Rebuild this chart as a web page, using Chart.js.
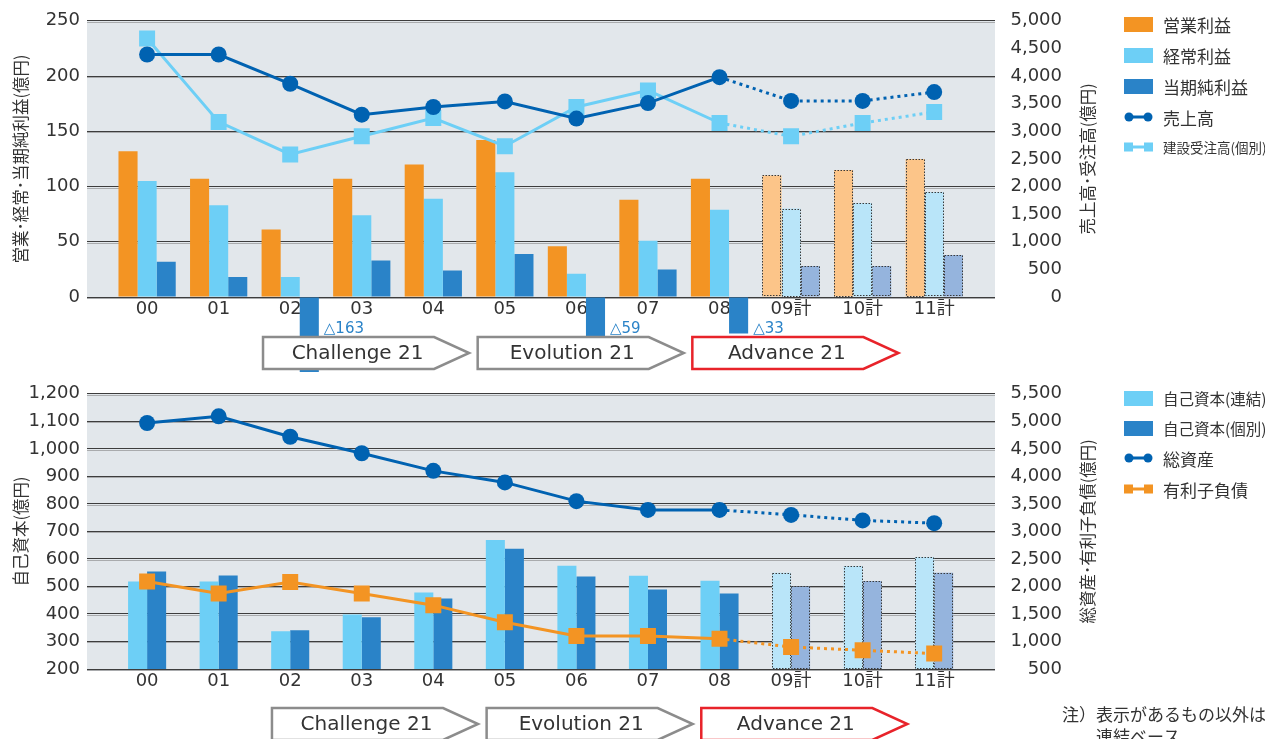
<!DOCTYPE html>
<html>
<head>
<meta charset="utf-8">
<script src="https://cdn.jsdelivr.net/npm/chart.js@4.4.1/dist/chart.umd.min.js"></script>
<style>
  html, body { margin: 0; padding: 0; background: #fff; width: 1265px; height: 739px; overflow: hidden; }
  body { font-family: "Noto Sans CJK JP", sans-serif; color: #333; position: relative; }
  .panel { position: absolute; left: 0; width: 1265px; }
  #topPanel { top: 0; height: 375px; }
  #bottomPanel { top: 373px; height: 366px; }
  .legend-item { position: absolute; left: 1124px; height: 20px; display: flex; align-items: center; white-space: nowrap; font-size: 17px; }
  .legend-item svg { margin-right: 10px; flex: none; }
  .note { position: absolute; left: 1062px; top: 703px; font-size: 17px; line-height: 22px; white-space: nowrap; }
</style>
</head>
<body>
<div class="panel" id="topPanel"><canvas id="profitChart" width="1265" height="375"></canvas></div>
<div class="panel" id="bottomPanel"><canvas id="balanceChart" width="1265" height="366"></canvas></div>
<div id="legends"></div>
<div class="note">注）表示があるもの以外は<br><span style="padding-left:34px">連結ベース</span></div>
<script>
// fiscal years (last three are plans)
const years = ['00', '01', '02', '03', '04', '05', '06', '07', '08', '09計', '10計', '11計'];
const PLAN_FROM = 9;

// top chart, left axis (億円)
const operatingIncome = [132, 107, 61, 107, 120, 142, 46, 88, 107, 110, 115, 125];
const ordinaryIncome = [105, 83, 18, 74, 89, 113, 21, 51, 79, 80, 85, 95];
const netIncome = [32, 18, -163, 33, 24, 39, -59, 25, -33, 28, 28, 38];
// top chart, right axis (億円)
const netSales = [4390, 4390, 3860, 3300, 3440, 3540, 3230, 3510, 3980, 3550, 3550, 3710];
const ordersReceived = [4680, 3170, 2580, 2910, 3240, 2730, 3440, 3740, 3150, 2910, 3150, 3350];

// bottom chart, left axis (億円)
const equityConsolidated = [518, 518, 337, 398, 478, 669, 575, 539, 521, 550, 574, 607];
const equityNonConsolidated = [554, 540, 341, 388, 456, 637, 536, 489, 474, 500, 520, 550];
// bottom chart, right axis (億円)
const totalAssets = [4970, 5090, 4720, 4420, 4100, 3890, 3550, 3390, 3390, 3300, 3200, 3150];
const interestBearingDebt = [2090, 1870, 2080, 1870, 1660, 1350, 1100, 1100, 1050, 900, 840, 780];

// medium-term plans
const phaseNames = ['Challenge 21', 'Evolution 21', 'Advance 21'];
const phaseStart = [2, 5, 8];
const phaseEnd = [4, 7, 10];
const phaseColors = ['#8c8c8c', '#8c8c8c', '#e8232a'];

const COLORS = {
  orange: '#f39423', orangePale: '#fcc589',
  sky: '#6dcff6', skyPale: '#b9e5f9',
  blue: '#2a83c8', bluePale: '#95b4dd',
  navy: '#0062b1',
  text: '#333333',
};
const NUM_FONT = '"DejaVu Sans", "Noto Sans CJK JP", sans-serif';
const JP_FONT = '"Noto Sans CJK JP", sans-serif';

const points = arr => arr.map((v, i) => ({ x: i, y: v }));
const planColors = (solid, pale) => years.map((_, i) => i >= PLAN_FROM ? pale : solid);
const dottedAfter8 = { borderDash: ctx => ctx.p0DataIndex >= 8 ? [3, 4] : undefined };

const plotBackground = {
  id: 'plotBackground',
  beforeDraw(chart) {
    const { ctx, chartArea: a } = chart;
    ctx.save();
    ctx.fillStyle = '#e2e7eb';
    ctx.fillRect(a.left, a.top, a.width, a.height);
    ctx.restore();
  },
  beforeDatasetsDraw(chart) {
    // lighter shadow line under each grid line
    const { ctx, chartArea: a } = chart;
    const y = chart.scales.y;
    ctx.save();
    ctx.strokeStyle = '#a9abad';
    ctx.lineWidth = 1;
    y.ticks.forEach(t => {
      const py = Math.round(y.getPixelForValue(t.value)) + 1.5;
      ctx.beginPath();
      ctx.moveTo(a.left, py);
      ctx.lineTo(a.right, py);
      ctx.stroke();
    });
    ctx.restore();
  }
};

const planOutline = {
  id: 'planOutline',
  afterDatasetDraw(chart, args) {
    const meta = args.meta;
    if (meta.type !== 'bar') return;
    const { ctx, chartArea: a } = chart;
    ctx.save();
    ctx.setLineDash([1.5, 1.5]);
    ctx.strokeStyle = '#3a3a3a';
    ctx.lineWidth = 1;
    meta.data.forEach((bar, i) => {
      if (i < PLAN_FROM) return;
      const { x, y, base, width } = bar.getProps(['x', 'y', 'base', 'width'], true);
      const yTop = Math.max(Math.min(y, base), a.top);
      const yBot = Math.min(Math.max(y, base), a.bottom);
      ctx.strokeRect(Math.round(x - width / 2) + 0.5, Math.round(yTop) + 0.5,
        Math.round(width) - 1, Math.round(yBot - yTop) - 1);
    });
    ctx.restore();
  }
};

const extras = {
  id: 'extras',
  afterDraw(chart, args, opts) {
    const { ctx, chartArea: a } = chart;
    const xs = chart.scales.x;
    ctx.save();

    // right axis title, read bottom to top
    ctx.save();
    ctx.translate(a.right + 93, (a.top + a.bottom) / 2);
    ctx.rotate(-Math.PI / 2);
    ctx.font = '16.5px ' + JP_FONT;
    ctx.fillStyle = COLORS.text;
    ctx.textAlign = 'center';
    ctx.textBaseline = 'middle';
    ctx.fillText(opts.rightTitle, 0, 0);
    ctx.restore();

    // △ labels for losses
    if (opts.lossDataset != null) {
      const meta = chart.getDatasetMeta(opts.lossDataset);
      const values = chart.data.datasets[opts.lossDataset].data;
      ctx.font = '15px ' + NUM_FONT;
      ctx.fillStyle = COLORS.blue;
      ctx.textAlign = 'left';
      ctx.textBaseline = 'middle';
      meta.data.forEach((bar, i) => {
        if (values[i].y >= 0) return;
        ctx.fillText('△' + Math.abs(values[i].y), bar.x + bar.width / 2 + 5, a.bottom + 32);
      });
    }

    // plan arrows
    const top = a.bottom + opts.arrowTop;
    const h = 32;
    phaseNames.forEach((name, i) => {
      const x0 = xs.getPixelForValue(phaseStart[i] - 0.38 + opts.arrowShift);
      const x1 = xs.getPixelForValue(phaseEnd[i] + 0.5 + opts.arrowShift);
      ctx.beginPath();
      ctx.moveTo(x0, top);
      ctx.lineTo(x1 - 35, top);
      ctx.lineTo(x1, top + h / 2);
      ctx.lineTo(x1 - 35, top + h);
      ctx.lineTo(x0, top + h);
      ctx.closePath();
      ctx.fillStyle = '#fff';
      ctx.fill();
      ctx.lineWidth = 2.5;
      ctx.strokeStyle = phaseColors[i];
      ctx.stroke();
      ctx.font = '20px ' + NUM_FONT;
      ctx.fillStyle = COLORS.text;
      ctx.textAlign = 'center';
      ctx.textBaseline = 'middle';
      ctx.fillText(name, (x0 + x1 - 17) / 2, top + h / 2 + 1);
    });
    ctx.restore();
  }
};

function xAxis(height) {
  return {
    type: 'linear',
    offset: false,
    min: -0.84,
    max: 11.85,
    afterBuildTicks: s => { s.ticks = years.map((_, i) => ({ value: i })); },
    afterFit: s => { s.height = height; },
    grid: { display: false, drawTicks: false },
    border: { display: false },
    ticks: {
      autoSkip: false, maxRotation: 0, padding: 2,
      color: COLORS.text, font: { family: NUM_FONT, size: 18 },
      callback: v => years[v]
    }
  };
}

function yAxis(min, max, step, title) {
  return {
    position: 'left', min, max,
    afterFit: s => { s.width = 87; },
    border: { display: false },
    grid: { color: '#3d3d3d', lineWidth: 1, drawTicks: false },
    title: { display: true, text: title, color: COLORS.text, font: { family: JP_FONT, size: 16.5 }, padding: { top: 11, bottom: 0 } },
    ticks: { stepSize: step, padding: 7, color: COLORS.text, font: { family: NUM_FONT, size: 18 }, callback: v => v.toLocaleString('en-US') }
  };
}

function y2Axis(min, max, step) {
  return {
    position: 'right', min, max,
    afterFit: s => { s.width = 67; },
    border: { display: false },
    grid: { display: false, drawTicks: false },
    ticks: { stepSize: step, padding: 10, crossAlign: 'far', color: COLORS.text, font: { family: NUM_FONT, size: 18 }, callback: v => v.toLocaleString('en-US') }
  };
}

new Chart(document.getElementById('profitChart'), {
  data: {
    datasets: [
      { type: 'line', label: '売上高', yAxisID: 'y2', order: 0, data: points(netSales),
        borderColor: COLORS.navy, borderWidth: 3, pointStyle: 'circle', pointRadius: 8,
        pointBackgroundColor: COLORS.navy, pointBorderWidth: 0, segment: dottedAfter8 },
      { type: 'line', label: '建設受注高(個別)', yAxisID: 'y2', order: 0, data: points(ordersReceived),
        borderColor: COLORS.sky, borderWidth: 3, pointStyle: 'rect', pointRadius: 11.3,
        pointBackgroundColor: COLORS.sky, pointBorderWidth: 0, segment: dottedAfter8 },
      { type: 'bar', label: '営業利益', yAxisID: 'y', order: 1, data: points(operatingIncome),
        backgroundColor: planColors(COLORS.orange, COLORS.orangePale) },
      { type: 'bar', label: '経常利益', yAxisID: 'y', order: 1, data: points(ordinaryIncome),
        backgroundColor: planColors(COLORS.sky, COLORS.skyPale) },
      { type: 'bar', label: '当期純利益', yAxisID: 'y', order: 1, data: points(netIncome),
        backgroundColor: planColors(COLORS.blue, COLORS.bluePale),
        clip: { left: false, top: 0, right: false, bottom: 75 } }
    ]
  },
  options: {
    responsive: false,
    animation: false,
    events: [],
    layout: { padding: { top: 15, right: 203, left: 0, bottom: 0 } },
    datasets: { bar: { categoryPercentage: 0.8, barPercentage: 1.0 } },
    scales: {
      x: xAxis(78),
      y: yAxis(0, 250, 50, '営業･経常･当期純利益(億円)'),
      y2: y2Axis(0, 5000, 500)
    },
    plugins: {
      legend: { display: false },
      tooltip: { enabled: false },
      extras: { rightTitle: '売上高･受注高(億円)', lossDataset: 4, arrowTop: 40, arrowShift: 0 }
    }
  },
  plugins: [plotBackground, planOutline, extras]
});

new Chart(document.getElementById('balanceChart'), {
  data: {
    datasets: [
      { type: 'line', label: '総資産', yAxisID: 'y2', order: 0, data: points(totalAssets),
        borderColor: COLORS.navy, borderWidth: 3, pointStyle: 'circle', pointRadius: 8,
        pointBackgroundColor: COLORS.navy, pointBorderWidth: 0, segment: dottedAfter8 },
      { type: 'line', label: '有利子負債', yAxisID: 'y2', order: 0, data: points(interestBearingDebt),
        borderColor: COLORS.orange, borderWidth: 3, pointStyle: 'rect', pointRadius: 11.3,
        pointBackgroundColor: COLORS.orange, pointBorderWidth: 0, segment: dottedAfter8 },
      { type: 'bar', label: '自己資本(連結)', yAxisID: 'y', order: 1, data: points(equityConsolidated),
        backgroundColor: planColors(COLORS.sky, COLORS.skyPale) },
      { type: 'bar', label: '自己資本(個別)', yAxisID: 'y', order: 1, data: points(equityNonConsolidated),
        backgroundColor: planColors(COLORS.blue, COLORS.bluePale) }
    ]
  },
  options: {
    responsive: false,
    animation: false,
    events: [],
    layout: { padding: { top: 9, right: 203, left: 0, bottom: 0 } },
    datasets: { bar: { categoryPercentage: 0.532, barPercentage: 1.0 } },
    scales: {
      x: xAxis(70),
      y: yAxis(200, 1200, 100, '自己資本(億円)'),
      y2: y2Axis(500, 5500, 500)
    },
    plugins: {
      legend: { display: false },
      tooltip: { enabled: false },
      extras: { rightTitle: '総資産･有利子負債(億円)', lossDataset: null, arrowTop: 39, arrowShift: 0.125 }
    }
  },
  plugins: [plotBackground, planOutline, extras]
});

// legends
const barSwatch = c => `<svg width="29" height="15"><rect width="29" height="15" fill="${c}"/></svg>`;
const circleSwatch = c => `<svg width="29" height="12"><line x1="5" y1="6" x2="24" y2="6" stroke="${c}" stroke-width="3"/><circle cx="5" cy="6" r="4.5" fill="${c}"/><circle cx="24" cy="6" r="4.5" fill="${c}"/></svg>`;
const squareSwatch = c => `<svg width="29" height="12"><line x1="5" y1="6" x2="24" y2="6" stroke="${c}" stroke-width="3"/><rect x="0" y="1.5" width="9" height="9" fill="${c}"/><rect x="20" y="1.5" width="9" height="9" fill="${c}"/></svg>`;

const topLegendLabels = ['営業利益', '経常利益', '当期純利益', '売上高', '建設受注高(個別)'];
const topLegendSwatches = [barSwatch(COLORS.orange), barSwatch(COLORS.sky), barSwatch(COLORS.blue), circleSwatch(COLORS.navy), squareSwatch(COLORS.sky)];
const topLegendY = [24, 55, 86, 117, 147];
const bottomLegendLabels = ['自己資本(連結)', '自己資本(個別)', '総資産', '有利子負債'];
const bottomLegendSwatches = [barSwatch(COLORS.sky), barSwatch(COLORS.blue), circleSwatch(COLORS.navy), squareSwatch(COLORS.orange)];
const bottomLegendY = [398, 428, 458, 489];

const legendBox = document.getElementById('legends');
function addLegend(labels, swatches, ys) {
  labels.forEach((label, i) => {
    const el = document.createElement('div');
    el.className = 'legend-item';
    el.style.top = (ys[i] - 10) + 'px';
    if (label.length >= 9) el.style.fontSize = '13.5px';
    else if (label.length >= 8) el.style.fontSize = '15.5px';
    el.innerHTML = swatches[i] + '<span>' + label + '</span>';
    legendBox.appendChild(el);
  });
}
addLegend(topLegendLabels, topLegendSwatches, topLegendY);
addLegend(bottomLegendLabels, bottomLegendSwatches, bottomLegendY);
</script>
</body>
</html>
